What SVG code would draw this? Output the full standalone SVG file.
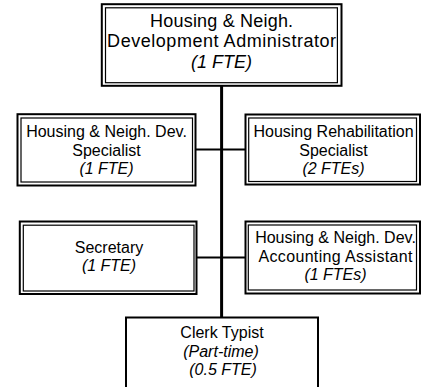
<svg xmlns="http://www.w3.org/2000/svg" width="422" height="387" viewBox="0 0 422 387">
  <style>
    .outer { fill: none; stroke: #000; stroke-width: 2; }
    .inner { fill: none; stroke: #000; stroke-width: 1.2; }
    .single { fill: #fff; stroke: #000; stroke-width: 2; }
    .link { fill: none; stroke: #000; }
    text { font-family: "Liberation Sans", Arial, sans-serif; fill: #000; text-anchor: middle; }
    .big { font-size: 18px; }
    .mid { font-size: 16px; }
    .it { font-style: italic; }
  </style>
  <rect width="422" height="387" fill="#fff"/>

  <!-- connectors -->
  <g id="connectors">
    <line class="link" x1="221.6" y1="85" x2="221.6" y2="318" stroke-width="3"/>
    <line class="link" x1="195.5" y1="149.5" x2="245.5" y2="149.5" stroke-width="2.2"/>
    <line class="link" x1="196.5" y1="257.5" x2="245.5" y2="257.5" stroke-width="2.2"/>
  </g>

  <!-- director -->
  <g id="administrator">
    <rect class="outer" x="101.8" y="4.2" width="239.7" height="81.6"/>
    <rect class="inner" x="105.5" y="7.8" width="231.9" height="74.9"/>
    <text class="big" x="221.6" y="26.5" textLength="143" lengthAdjust="spacing">Housing &amp; Neigh.</text>
    <text class="big" x="221.6" y="47" textLength="229" lengthAdjust="spacing">Development Administrator</text>
    <text class="big it" x="221.6" y="67.5">(1 FTE)</text>
  </g>

  <g id="dev-specialist">
    <rect class="outer" x="17.5" y="114.2" width="178" height="71.3"/>
    <rect class="inner" x="21" y="118" width="171.5" height="64"/>
    <text class="mid" x="106.5" y="137">Housing &amp; Neigh. Dev.</text>
    <text class="mid" x="106.5" y="155.5">Specialist</text>
    <text class="mid it" x="106.5" y="174">(1 FTE)</text>
  </g>

  <g id="rehab-specialist">
    <rect class="outer" x="245.5" y="114.5" width="174.5" height="70"/>
    <rect class="inner" x="248.7" y="118" width="167.8" height="63.5"/>
    <text class="mid" x="333.5" y="137">Housing Rehabilitation</text>
    <text class="mid" x="333.5" y="155.5">Specialist</text>
    <text class="mid it" x="333.5" y="174">(2 FTEs)</text>
  </g>

  <g id="secretary">
    <rect class="outer" x="19.8" y="221.5" width="176.7" height="72.5"/>
    <rect class="inner" x="23.3" y="225.2" width="170.7" height="65.8"/>
    <text class="mid" x="109" y="252.5">Secretary</text>
    <text class="mid it" x="109" y="271">(1 FTE)</text>
  </g>

  <g id="accounting-assistant">
    <rect class="outer" x="245.5" y="221.5" width="174.5" height="72"/>
    <rect class="inner" x="248.3" y="225" width="168.2" height="65"/>
    <text class="mid" x="335.5" y="243">Housing &amp; Neigh. Dev.</text>
    <text class="mid" x="335.5" y="261.5" textLength="154" lengthAdjust="spacing">Accounting Assistant</text>
    <text class="mid it" x="335.5" y="280">(1 FTEs)</text>
  </g>

  <g id="clerk-typist">
    <rect class="single" x="126" y="317.5" width="192" height="80"/>
    <text class="mid" x="222" y="338">Clerk Typist</text>
    <text class="mid it" x="221" y="356.5">(Part-time)</text>
    <text class="mid it" x="223" y="375">(0.5 FTE)</text>
  </g>
</svg>
